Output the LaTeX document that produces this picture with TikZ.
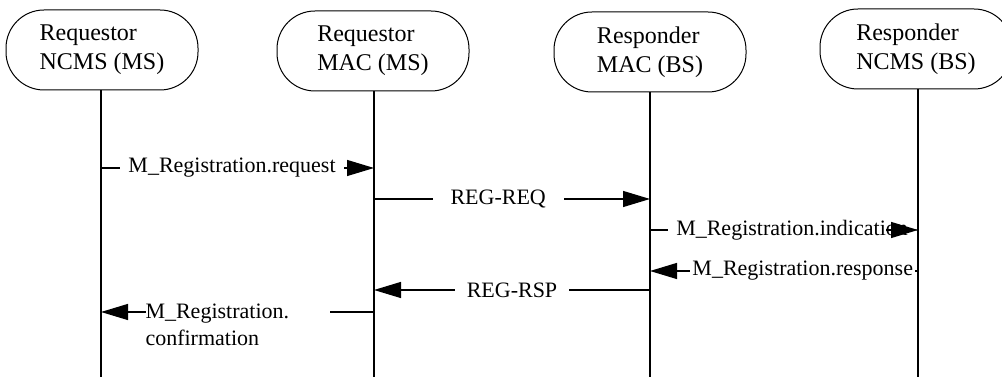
\documentclass[tikz,border=0pt]{standalone}
\usepackage{fontspec}
\setmainfont{Liberation Serif}
\usetikzlibrary{arrows.meta, positioning}

\begin{document}
\begin{tikzpicture}[x=0.5pt, y=0.5pt,
    entity/.style={rectangle, rounded corners=19pt, draw, line width=0.5pt,
                   minimum width=96pt, minimum height=40pt, align=left,
                   font=\fontsize{12}{14.5}\selectfont},
    life/.style={line width=0.6pt},
    msg/.style={line width=0.6pt, -{Triangle[length=13.5pt, width=8pt]}},
    lbl/.style={fill=white, inner ysep=1pt, inner xsep=4pt,
                font=\fontsize{11}{13.5}\selectfont}]
    \useasboundingbox (0,0) rectangle (1002,379);

    % Entities
    \node[entity] (ncmsms) at (102,329) {Requestor\\NCMS (MS)};
    \node[entity] (macms) at (373,328) {Requestor\\MAC (MS)};
    \node[entity] (macbs) at (650,327) {Responder\\MAC (BS)};
    \node[entity] (ncmsbs) at (916,330) {Responder\\NCMS (BS)};

    % Lifelines
    \coordinate (ncmsms-end) at (101,2);
    \coordinate (macms-end) at (374,2);
    \coordinate (macbs-end) at (650,2);
    \coordinate (ncmsbs-end) at (918,2);
    \draw[life] (ncmsms-end |- ncmsms.south) -- (ncmsms-end);
    \draw[life] (macms-end |- macms.south) -- (macms-end);
    \draw[life] (macbs-end |- macbs.south) -- (macbs-end);
    \draw[life] (ncmsbs-end |- ncmsbs.south) -- (ncmsbs-end);

    % Messages
    \draw[msg] (ncmsms-end |- 0,211) -- node[lbl, pos=0.48]{M\_Registration.request} (macms-end |- 0,211);
    \draw[msg] (macms-end |- 0,180) -- node[lbl, pos=0.45, inner xsep=9pt]{REG-REQ} (macbs-end |- 0,180);
    \draw[msg] (macbs-end |- 0,149) -- node[lbl, pos=0.53]{M\_Registration.indication} (ncmsbs-end |- 0,149);
    \draw[msg] ([xshift=-16pt]ncmsbs-end |- 0,149) -- (ncmsbs-end |- 0,149);
    \draw[msg] (ncmsbs-end |- 0,108) -- node[lbl, pos=0.43, inner xsep=1pt]{M\_Registration.response} (macbs-end |- 0,108);
    \draw[msg] (macbs-end |- 0,89) -- node[lbl, inner xsep=6pt]{REG-RSP} (macms-end |- 0,89);
    \draw[msg] (macms-end |- 0,67) -- node[lbl, align=left, text width=92pt, inner xsep=0pt, yshift=-6.5pt]{M\_Registration.\\confirmation} (ncmsms-end |- 0,67);
\end{tikzpicture}
\end{document}
